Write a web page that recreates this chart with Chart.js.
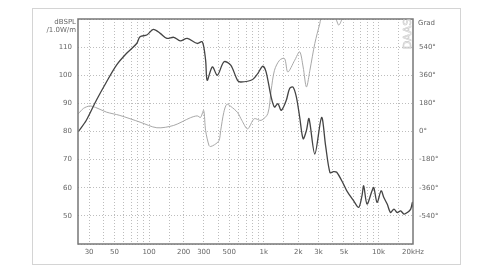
<!DOCTYPE html>
<html>
<head>
<meta charset="utf-8">
<script src="https://cdn.jsdelivr.net/npm/chart.js@4.4.0/dist/chart.umd.min.js"></script>
<style>
  html, body { margin: 0; padding: 0; background: #fff; }
  #wrap { width: 490px; height: 275px; }
</style>
</head>
<body>
<div id="wrap"><canvas id="fr" width="490" height="275"></canvas></div>
<script>
// SPL response (dB) and phase (deg)
var splFreq = [24.2, 28.3, 34.7, 42.5, 52, 63.7, 78, 83.4, 95.4, 109, 125, 143, 164, 187, 215, 263, 291, 311, 321, 356, 394, 450, 515, 590, 631, 800, 885, 980, 1047, 1159, 1240, 1328, 1420, 1571, 1680, 1800, 1923, 2056, 2203, 2355, 2478, 2787, 3191, 3459, 3776, 4045, 4325, 4954, 5297, 6067, 6714, 7178, 7430, 7943, 8790, 9100, 9730, 10550, 11140, 11910, 12740, 13640, 14590, 15600, 16700, 17860, 19100, 19770, 20000];
var splDb = [80, 83.9, 91.1, 97.6, 103.6, 107.8, 111.3, 113.7, 114.3, 116.3, 114.9, 113.1, 113.5, 112.2, 113.1, 111.3, 111.9, 105.4, 98.2, 103, 100, 104.8, 103.6, 98.2, 97.6, 98.5, 100.6, 103.2, 101.2, 92.3, 88.7, 89.9, 87.5, 91.1, 95.3, 95.8, 92.3, 85.1, 77.4, 80.4, 84.6, 72, 85, 75, 65.4, 65.7, 65.5, 61.3, 58.9, 55.4, 53, 57.1, 60.7, 54.2, 58.9, 60.1, 54.8, 58.9, 56.5, 54.2, 51.2, 52.4, 51.2, 51.8, 50.6, 51.2, 52.4, 54.8, 53];

var phaseFreq = [24.2, 26.8, 30.3, 34.2, 42.5, 55.6, 83.4, 116.9, 164, 229, 263, 281, 299, 311, 333, 344, 373, 407, 421, 448, 476, 515, 590, 644, 723, 826, 946, 1084, 1159, 1240, 1372, 1517, 1620, 1861, 2056, 2203, 2355, 2524, 2787, 3083, 3191, 3662, 4198, 4500, 4808, 5297, 5868];
var phaseDeg = [114, 148, 163, 154, 124, 103, 60, 24, 39, 88, 100, 90, 135, 6, -90, -96, -84, -58, 6, 122, 174, 161, 122, 71, 17, 82, 71, 114, 264, 392, 456, 467, 381, 456, 510, 413, 285, 392, 564, 692, 730, 725, 725, 681, 720, 810, 906];

var xGrid = [30, 40, 50, 60, 70, 80, 90, 100, 150, 200, 300, 400, 500, 600, 700, 800, 900, 1000, 1500, 2000, 3000, 4000, 5000, 6000, 7000, 8000, 9000, 10000, 15000, 20000];
var xLabels = {30: '30', 50: '50', 100: '100', 200: '200', 300: '300', 500: '500', 1000: '1k', 2000: '2k', 3000: '3k', 5000: '5k', 10000: '10k', 20000: '20kHz'};
var dbLabels = [50, 60, 70, 80, 90, 100, 110];
var degLabels = [-540, -360, -180, 0, 180, 360, 540];

var font7 = { family: 'DejaVu Sans', size: 7 };

// frame, axis captions, watermark
var overlay = {
    id: 'overlay',
    beforeDraw: function (chart) {
        var ctx = chart.ctx;
        ctx.save();
        ctx.fillStyle = '#fff';
        ctx.fillRect(0, 0, chart.width, chart.height);
        ctx.strokeStyle = '#d4d4d4';
        ctx.lineWidth = 1;
        ctx.strokeRect(32.5, 8.5, 428, 256);
        ctx.restore();
    },
    afterDraw: function (chart) {
        var ctx = chart.ctx, a = chart.chartArea;
        ctx.save();
        ctx.strokeStyle = '#777';
        ctx.lineWidth = 1.5;
        ctx.strokeRect(a.left, a.top, a.right - a.left, a.bottom - a.top);

        ctx.font = '7px "DejaVu Sans"';
        ctx.fillStyle = '#666';
        ctx.textAlign = 'right';
        ctx.fillText('dBSPL', a.left - 2, a.top + 5);
        ctx.fillText('/1.0W/m', a.left - 2, a.top + 13);
        ctx.textAlign = 'left';
        ctx.fillText('Grad', a.right + 5, a.top + 6);

        ctx.translate(a.right - 2, a.top + 15);
        ctx.rotate(-Math.PI / 2);
        ctx.font = '11px "DejaVu Sans"';
        ctx.textAlign = 'center';
        ctx.strokeStyle = '#c8c8c8';
        ctx.lineWidth = 0.6;
        ctx.strokeText('DAAS', 0, 0);
        ctx.restore();
    }
};

new Chart(document.getElementById('fr'), {
    type: 'line',
    data: {
        datasets: [
            {
                data: splFreq.map(function (f, i) { return { x: f, y: splDb[i] }; }),
                yAxisID: 'y',
                borderColor: '#444',
                borderWidth: 1.3,
                pointRadius: 0,
                tension: 0.3
            },
            {
                data: phaseFreq.map(function (f, i) { return { x: f, y: phaseDeg[i] }; }),
                yAxisID: 'y1',
                borderColor: '#a8a8a8',
                borderWidth: 1,
                pointRadius: 0,
                tension: 0.3
            }
        ]
    },
    plugins: [overlay],
    options: {
        responsive: false,
        animation: false,
        layout: { padding: { top: 19, left: 0, right: 0, bottom: 0 } },
        plugins: { legend: { display: false }, tooltip: { enabled: false } },
        scales: {
            x: {
                type: 'logarithmic',
                min: 24,
                max: 20000,
                afterBuildTicks: function (scale) {
                    scale.ticks = xGrid.map(function (v) { return { value: v }; });
                },
                afterFit: function (scale) { scale.height = 31; },
                grid: {
                    color: function (c) { return c.tick && c.tick.value === 20000 ? 'rgba(0,0,0,0)' : '#bdbdbd'; },
                    lineWidth: 1,
                    drawTicks: false
                },
                border: { display: false, dash: [1, 2] },
                ticks: {
                    autoSkip: false,
                    maxRotation: 0,
                    padding: 4,
                    color: '#666',
                    font: font7,
                    callback: function (v) { return xLabels[v] || ''; }
                }
            },
            y: {
                position: 'left',
                min: 40,
                max: 120,
                afterFit: function (scale) { scale.width = 78; },
                grid: { color: '#bdbdbd', drawTicks: false },
                border: { display: false, dash: [1, 2] },
                ticks: {
                    stepSize: 10,
                    padding: 6,
                    color: '#666',
                    font: font7,
                    callback: function (v) { return dbLabels.indexOf(v) >= 0 ? String(v) : ''; }
                }
            },
            y1: {
                position: 'right',
                min: -720,
                max: 720,
                afterFit: function (scale) { scale.width = 77; },
                grid: { display: false, drawTicks: false },
                border: { display: false },
                ticks: {
                    stepSize: 180,
                    padding: 6,
                    color: '#666',
                    font: font7,
                    callback: function (v) { return degLabels.indexOf(v) >= 0 ? v + '°' : ''; }
                }
            }
        }
    }
});
</script>
</body>
</html>
